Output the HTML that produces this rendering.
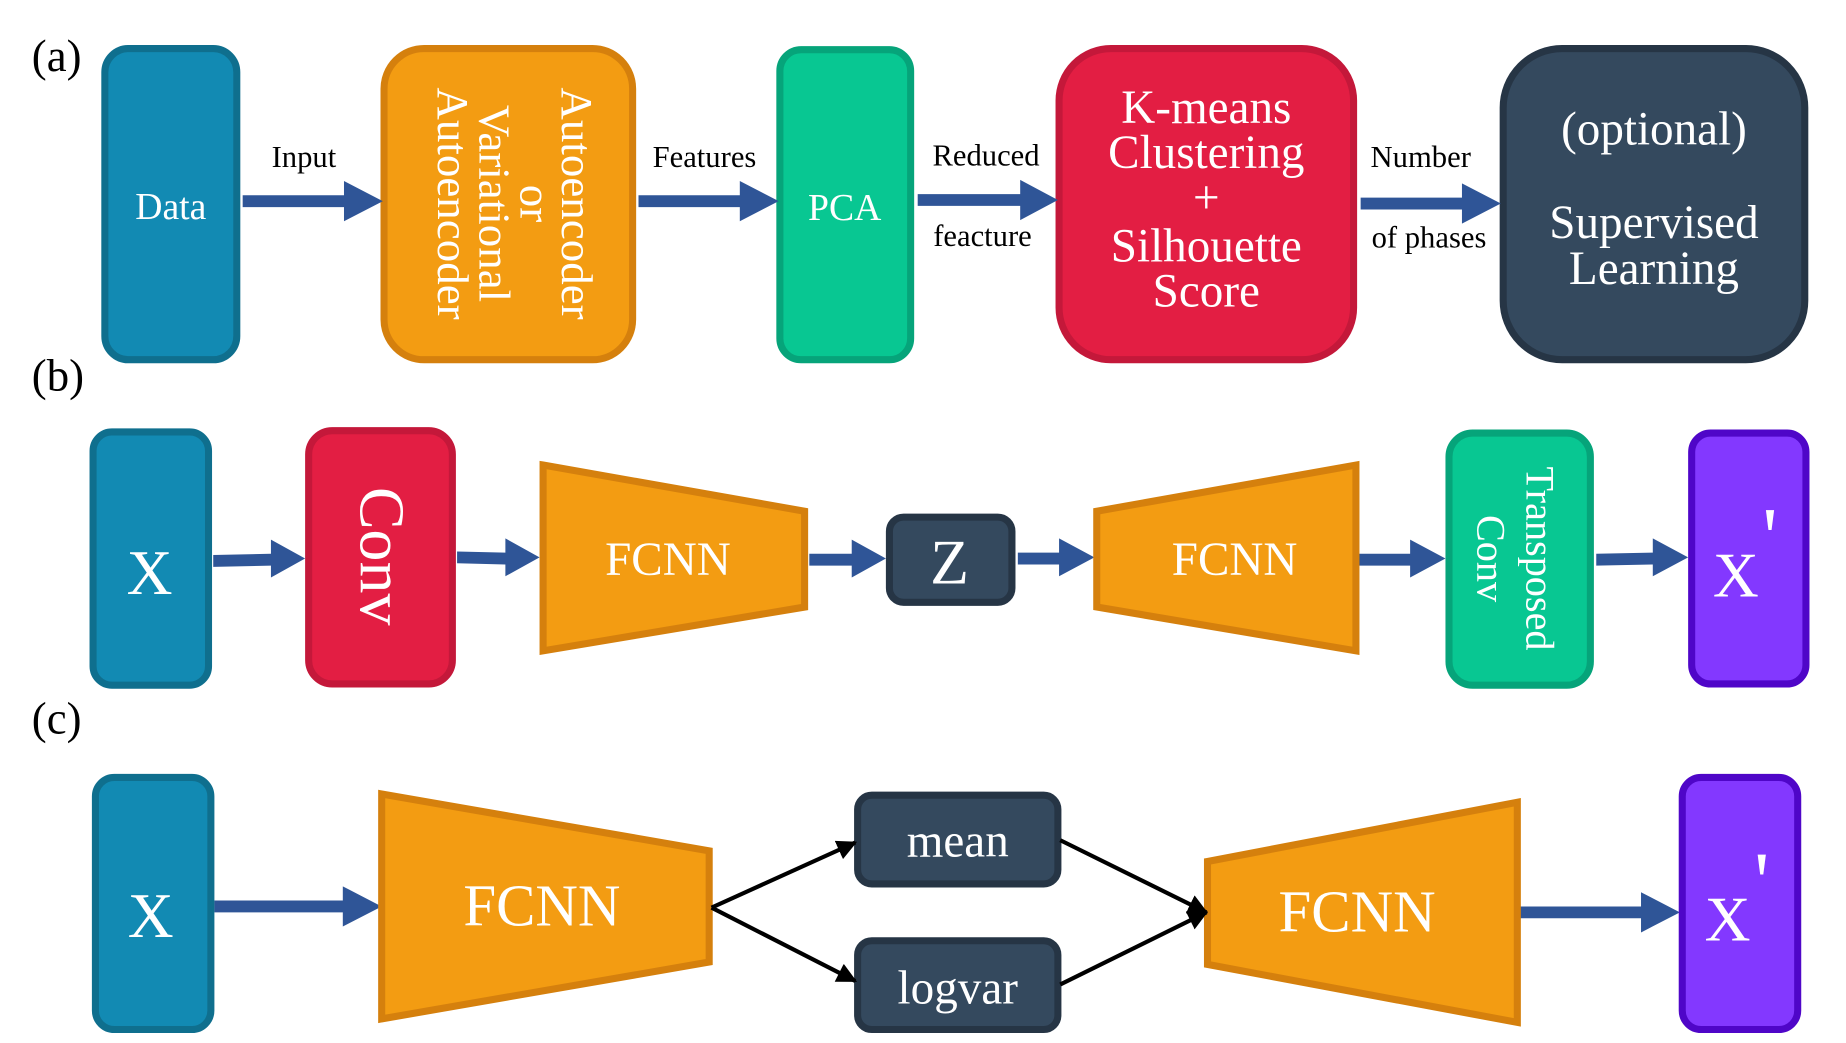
<!DOCTYPE html>
<html><head><meta charset="utf-8"><style>
html,body{margin:0;padding:0;background:#fff;width:1846px;height:1043px;overflow:hidden}
svg{display:block}
svg text, svg tspan{font-family:"Liberation Serif","DejaVu Serif",serif !important}
.w{fill:#fff}
.k{fill:#000}
</style></head><body>
<svg width="1846" height="1043" viewBox="0 0 1567 881.4" preserveAspectRatio="none" font-family="Liberation Serif, serif" xmlns="http://www.w3.org/2000/svg">
<defs>
<marker id="bh" viewBox="0 0 10 10" markerWidth="17" markerHeight="17" refX="9" refY="5" orient="auto" markerUnits="userSpaceOnUse"><path d="M0,0 L10,5 L0,10 Z" fill="#000"/></marker>
</defs>
<g stroke-width="6">
<text x="27" y="60" font-size="38" class="k">(a)</text>
<text x="27" y="330" font-size="38" class="k">(b)</text>
<text x="27" y="620" font-size="38" class="k">(c)</text>

<rect x="89" y="41" width="112" height="263" rx="20" fill="#128ab3" stroke="#0f6f8e"/>
<text x="145" y="185" font-size="32" class="w" text-anchor="middle">Data</text>

<rect x="326" y="41" width="211" height="263" rx="34" fill="#f39c12" stroke="#d5800d"/>
<g transform="translate(432,172) rotate(90)" font-size="38" class="w" text-anchor="middle">
<text x="0" y="-45">Autoencoder</text>
<text x="0" y="-10">or</text>
<text x="0" y="25">Variational</text>
<text x="0" y="60">Autoencoder</text>
</g>

<rect x="662" y="42" width="111" height="262" rx="18" fill="#08c792" stroke="#06a47a"/>
<text x="717" y="186" font-size="32" class="w" text-anchor="middle">PCA</text>

<rect x="899" y="41" width="250" height="263" rx="44" fill="#e31e43" stroke="#c4183a"/>
<g font-size="40" class="w" text-anchor="middle">
<text x="1024" y="104">K-means</text>
<text x="1024" y="142">Clustering</text>
<text x="1024" y="180">+</text>
<text x="1024" y="221">Silhouette</text>
<text x="1024" y="259">Score</text>
</g>

<rect x="1276" y="41" width="256" height="263" rx="50" fill="#34495e" stroke="#263545"/>
<g font-size="40" class="w" text-anchor="middle">
<text x="1404" y="122">(optional)</text>
<text x="1404" y="201">Supervised</text>
<text x="1404" y="240">Learning</text>
</g>

<g class="k" font-size="26" text-anchor="middle">
<text x="258" y="141">Input</text>
<text x="598" y="141">Features</text>
<text x="837" y="140">Reduced</text>
<text x="834" y="208">feacture</text>
<text x="1206" y="141">Number</text>
<text x="1213" y="209">of phases</text>
</g>
</g>

<g fill="#2f5597">
<polygon points="206,165 292,165 292,153 325,170 292,187 292,175 206,175"/>
<polygon points="542,165 628,165 628,153 661,170 628,187 628,175 542,175"/>
<polygon points="779,164 866,164 866,152 898,169 866,186 866,174 779,174"/>
<polygon points="1155,167 1241,167 1241,155 1274,172 1241,189 1241,177 1155,177"/>
<polygon points="181,469 230,468 230,456 259,472 230,488 230,478 181,479"/>
<polygon points="388,466 429,467 429,455 458,471 429,487 429,477 388,476"/>
<polygon points="687,468 723,468 723,456 752,472 723,488 723,478 687,478"/>
<polygon points="864,467 899,467 899,455 929,471 899,487 899,477 864,477"/>
<polygon points="1153,468 1197,468 1197,456 1227,472 1197,488 1197,478 1153,478"/>
<polygon points="1355,468 1403,467 1403,455 1433,471 1403,487 1403,477 1355,478"/>
<polygon points="182,761 291,761 291,749 324,766 291,783 291,771 182,771"/>
<polygon points="1290,766 1393,766 1393,754 1426,771 1393,788 1393,776 1290,776"/>
</g>

<g stroke-width="6">
<rect x="79" y="365" width="98" height="214" rx="16" fill="#128ab3" stroke="#0f6f8e"/>
<text x="127" y="502" font-size="54" class="w" text-anchor="middle">X</text>

<rect x="262" y="364" width="122" height="214" rx="20" fill="#e31e43" stroke="#c4183a"/>
<text transform="translate(306,470) rotate(90)" font-size="54" class="w" text-anchor="middle">Conv</text>

<polygon points="461,393 683,432 683,513 461,550" fill="#f39c12" stroke="#d5800d"/>
<text x="567" y="486" font-size="40" class="w" text-anchor="middle">FCNN</text>

<rect x="755" y="437" width="104" height="72" rx="12" fill="#34495e" stroke="#263545"/>
<text x="806" y="493" font-size="54" class="w" text-anchor="middle">Z</text>

<polygon points="931,432 1151,393 1151,550 931,513" fill="#f39c12" stroke="#d5800d"/>
<text x="1048" y="486" font-size="40" class="w" text-anchor="middle">FCNN</text>

<rect x="1230" y="366" width="120" height="213" rx="20" fill="#08c792" stroke="#06a47a"/>
<g transform="translate(1289,472) rotate(90)" font-size="34" class="w" text-anchor="middle">
<text x="0" y="-7">Transposed</text>
<text x="0" y="35">Conv</text>
</g>

<rect x="1436" y="366" width="97" height="212" rx="16" fill="#8338ff" stroke="#4f06c8"/>
<text x="1454" y="504" font-size="54" class="w">X</text>
<text x="1496" y="478" font-size="72" class="w">'</text>

<rect x="81" y="657" width="98" height="213" rx="16" fill="#128ab3" stroke="#0f6f8e"/>
<text x="128" y="792" font-size="54" class="w" text-anchor="middle">X</text>

<polygon points="324,671 602,719 602,813 324,861" fill="#f39c12" stroke="#d5800d"/>
<text x="460" y="782" font-size="50" class="w" text-anchor="middle">FCNN</text>

<rect x="728" y="672" width="170" height="75" rx="12" fill="#34495e" stroke="#263545"/>
<text x="813" y="724" font-size="40" class="w" text-anchor="middle">mean</text>
<rect x="728" y="795" width="170" height="75" rx="12" fill="#34495e" stroke="#263545"/>
<text x="813" y="848" font-size="40" class="w" text-anchor="middle">logvar</text>

<polygon points="1025,728 1288,678 1288,864 1025,815" fill="#f39c12" stroke="#d5800d"/>
<text x="1152" y="787" font-size="50" class="w" text-anchor="middle">FCNN</text>

<rect x="1428" y="657" width="98" height="213" rx="16" fill="#8338ff" stroke="#4f06c8"/>
<text x="1447" y="795" font-size="54" class="w">X</text>
<text x="1489" y="769" font-size="72" class="w">'</text>
</g>

<g stroke="#000" stroke-width="3.5" fill="none">
<line x1="604" y1="767" x2="726" y2="712" marker-end="url(#bh)"/>
<line x1="604" y1="767" x2="726" y2="829" marker-end="url(#bh)"/>
<line x1="900" y1="710" x2="1024" y2="771" marker-end="url(#bh)"/>
<line x1="900" y1="832" x2="1024" y2="771" marker-end="url(#bh)"/>
</g>
</svg>
</body></html>
